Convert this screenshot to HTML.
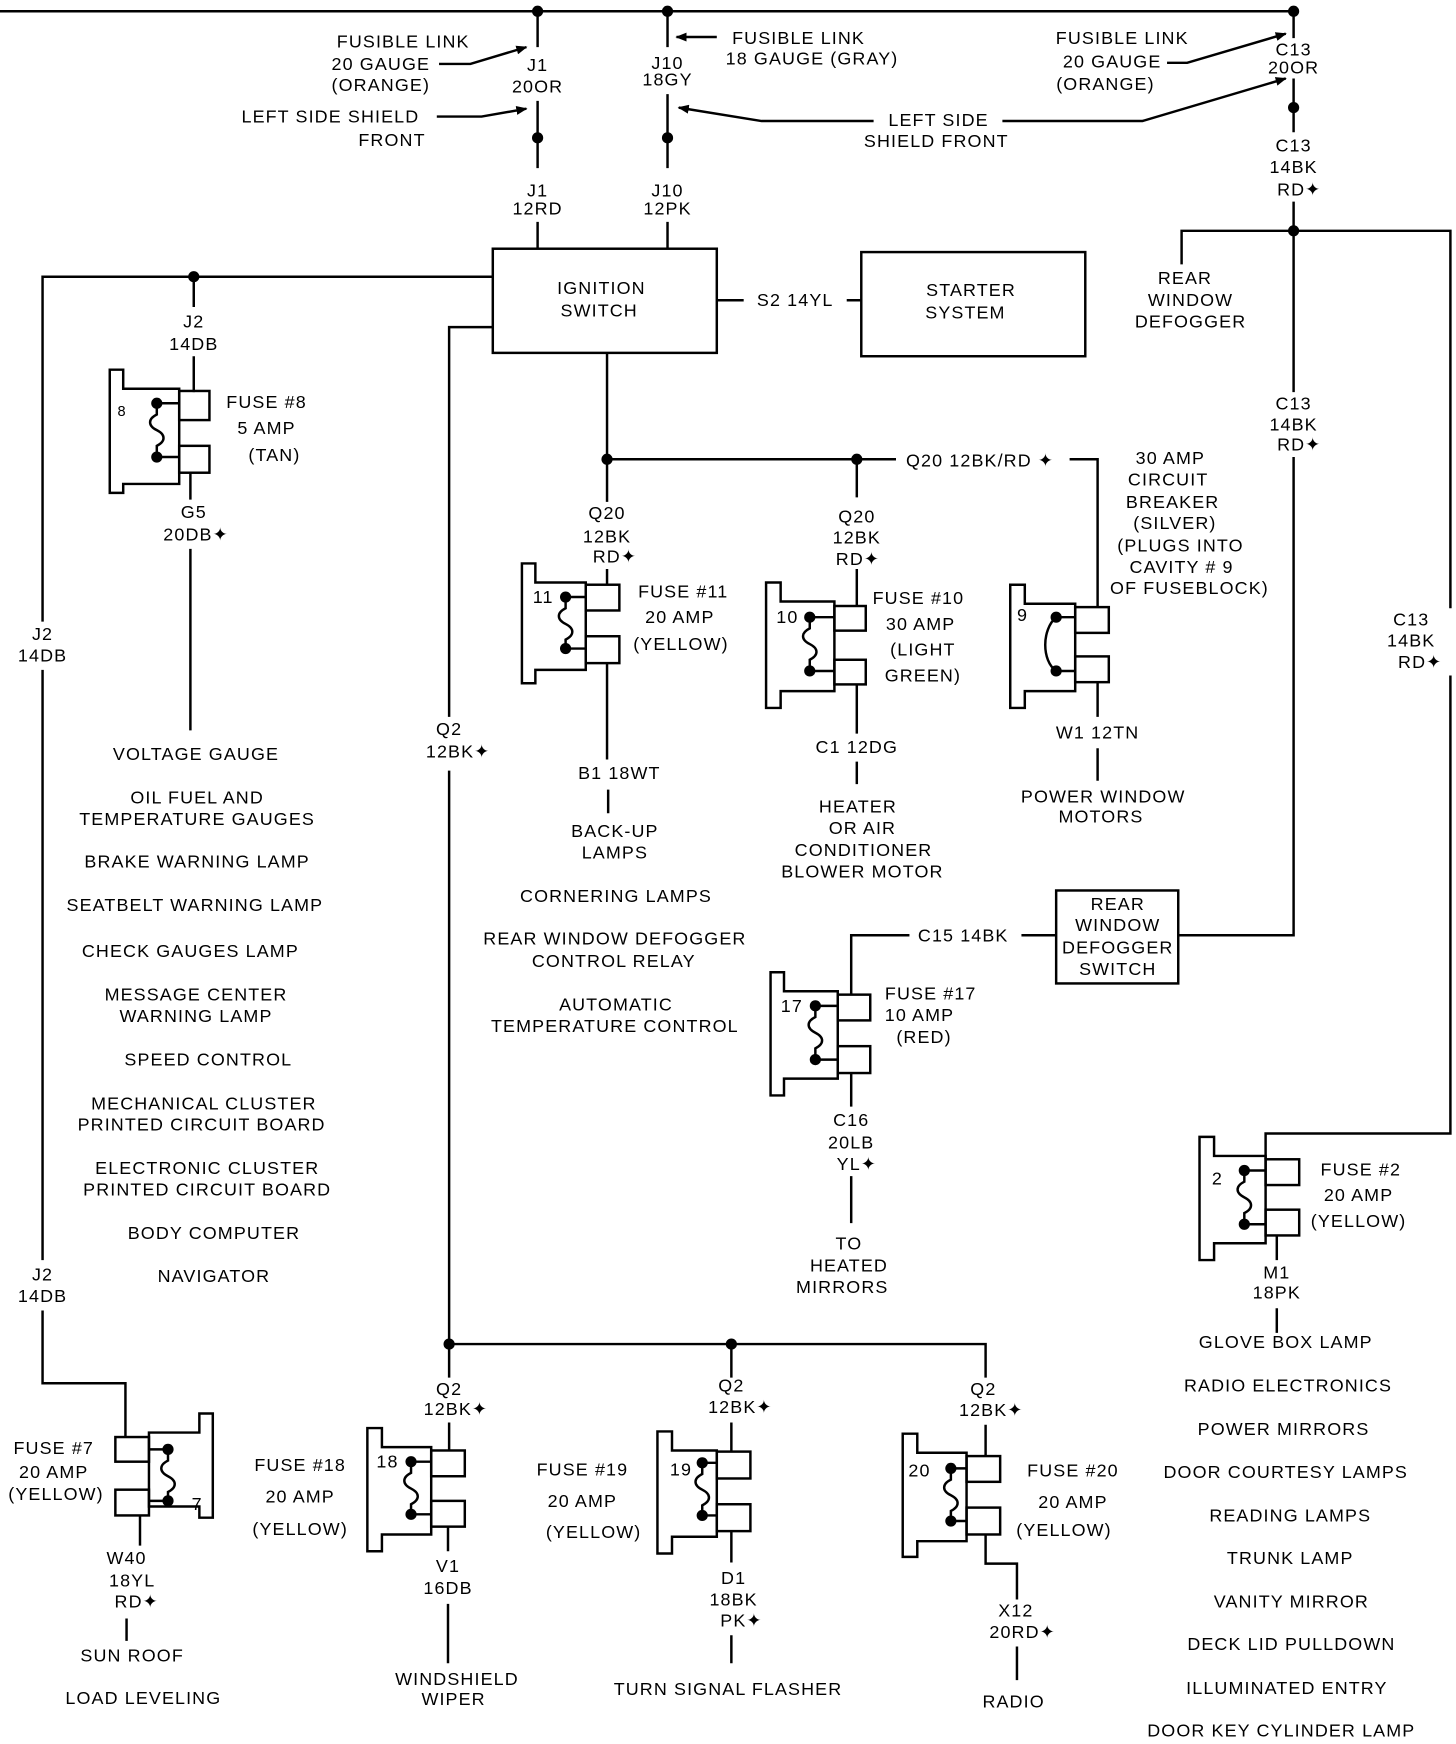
<!DOCTYPE html>
<html><head><meta charset="utf-8"><style>
html,body{margin:0;padding:0;background:#fff}
svg{display:block}
text{font-family:"Liberation Sans",sans-serif;font-size:16px;letter-spacing:1px;fill:#000;text-anchor:middle;dominant-baseline:central}
</style></head><body>
<svg width="1456" height="1744" viewBox="0 0 1300 1557" xmlns="http://www.w3.org/2000/svg">
<defs><marker id="a" markerWidth="10" markerHeight="8" refX="9" refY="4" orient="auto" markerUnits="userSpaceOnUse"><path d="M0,0 L10,4 L0,8 Z"/></marker></defs>
<g stroke="#000" stroke-width="2.2" fill="none">
<path d="M0,10 H1155"/>
<path d="M480,10 V42 M480,90 V150 M480,198 V222"/>
<path d="M596,10 V42 M596,84 V150 M596,198 V222"/>
<path d="M1155,10 V34 M1155,70 V118 M1155,180 V206"/>
<path d="M392,57 L420,57 L470,42" marker-end="url(#a)"/>
<path d="M390,104 L430,104 L470,97" marker-end="url(#a)"/>
<path d="M640,33 H604" marker-end="url(#a)"/>
<path d="M780,108 H680 L606,96" marker-end="url(#a)"/>
<path d="M1042,56 H1060 L1148,30" marker-end="url(#a)"/>
<path d="M895,108 H1020 L1148,70" marker-end="url(#a)"/>
<rect x="440" y="222" width="200" height="93"/>
<rect x="769" y="225" width="200" height="93"/>
<path d="M640,268 H664 M756,268 H769"/>
<path d="M440,247 H38 V555 M38,598 V1125 M38,1170 V1235 H112 V1283"/>
<path d="M173,247 V274 M173,318 V350"/>
<path d="M170,422 V446 M170,490 V652"/>
<path d="M440,292 H401 V640 M401,688 V1200 H880 V1230 M401,1200 V1230 M653,1200 V1230"/>
<path d="M401,1270 V1295 M653,1270 V1296 M880,1272 V1300"/>
<path d="M542,315 V410 H765 M765,410 H800 M955,410 H980 V542"/>
<path d="M542,410 V448 M542,508 V522 M765,410 V444 M765,508 V541"/>
<path d="M542,592 V678 M543,705 V726"/>
<path d="M765,611 V655 M765,680 V700"/>
<path d="M980,609 V640 M980,668 V697"/>
<path d="M1055,236 V206 H1295 V543 M1295,603 V1012 H1130 V1035"/>
<path d="M1155,206 V350 M1155,408 V835 H1052"/>
<path d="M943,835 H912 M812,835 H760 V888"/>
<rect x="943" y="795" width="109" height="83"/>
<path d="M760,958 V988 M760,1050 V1092"/>
<path d="M1140,1103 V1125 M1140,1168 V1190"/>
<path d="M125,1353 V1380 M113,1445 V1465"/>
<path d="M400,1363 V1385 M400,1432 V1485"/>
<path d="M653,1367 V1395 M653,1460 V1485"/>
<path d="M880,1370 V1396 H908 V1428 M908,1470 V1500"/>
<path d="M98,330 H110 V347 H160 V432 H110 V440 H98 Z"/>
<rect x="160" y="349" width="27" height="26"/><rect x="160" y="398" width="27" height="24"/>
<path d="M466,503 H478 V520 H523 V598 H478 V610 H466 Z"/>
<rect x="523" y="522" width="30" height="23"/><rect x="523" y="568" width="30" height="24"/>
<path d="M684,520 H697 V537 H745 V617 H697 V632 H684 Z"/>
<rect x="745" y="541" width="28" height="22"/><rect x="745" y="589" width="28" height="22"/>
<path d="M902,522 H915 V539 H960 V617 H915 V632 H902 Z"/>
<rect x="960" y="542" width="30" height="23"/><rect x="960" y="586" width="30" height="23"/>
<path d="M943,551 C930,562 930,590 943,599"/>
<path d="M688,868 H700 V885 H748 V963 H700 V978 H688 Z"/>
<rect x="748" y="888" width="29" height="23"/><rect x="748" y="934" width="29" height="24"/>
<path d="M1071,1015 H1084 V1032 H1130 V1110 H1084 V1125 H1071 Z"/>
<rect x="1130" y="1035" width="30" height="23"/><rect x="1130" y="1080" width="30" height="23"/>
<path d="M190,1262 H178 V1279 H133 V1345 H178 V1355 H190 Z"/>
<rect x="103" y="1283" width="30" height="22"/><rect x="103" y="1330" width="30" height="23"/>
<path d="M328,1275 H341 V1292 H385 V1370 H341 V1385 H328 Z"/>
<rect x="385" y="1295" width="30" height="23"/><rect x="385" y="1340" width="30" height="23"/>
<path d="M587,1278 H600 V1295 H640 V1372 H600 V1387 H587 Z"/>
<rect x="640" y="1296" width="30" height="24"/><rect x="640" y="1343" width="30" height="24"/>
<path d="M806,1280 H819 V1297 H863 V1376 H819 V1390 H806 Z"/>
<rect x="863" y="1300" width="30" height="23"/><rect x="863" y="1346" width="30" height="24"/>
<path d="M140,360 V370 c-8,4 -8,10 0,14 c8,4 8,10 0,14 V408 M140,360 H160 M140,408 H160"/>
<path d="M505,533 V543 c-8,4 -8,10 0,14 c8,4 8,10 0,14 V579 M505,533 H523 M505,579 H523"/>
<path d="M723,551 V561 c-8,4 -8,10 0,14 c8,4 8,10 0,14 V599 M723,551 H745 M723,599 H745"/>
<path d="M943,551 H960 M943,599 H960"/>
<path d="M728,898 V908 c-8,4 -8,10 0,14 c8,4 8,10 0,14 V946 M728,898 H748 M728,946 H748"/>
<path d="M1111,1045 V1055 c-8,4 -8,10 0,14 c8,4 8,10 0,14 V1093 M1111,1045 H1130 M1111,1093 H1130"/>
<path d="M150,1294 V1304 c-8,4 -8,10 0,14 c8,4 8,10 0,14 V1340 M150,1294 H133 M150,1340 H133"/>
<path d="M367,1305 V1315 c-8,4 -8,10 0,14 c8,4 8,10 0,14 V1352 M367,1305 H385 M367,1352 H385"/>
<path d="M627,1306 V1316 c-8,4 -8,10 0,14 c8,4 8,10 0,14 V1353 M627,1306 H640 M627,1353 H640"/>
<path d="M849,1311 V1321 c-8,4 -8,10 0,14 c8,4 8,10 0,14 V1358 M849,1311 H863 M849,1358 H863"/>
</g>
<g fill="#000">
<circle cx="480" cy="10" r="5"/><circle cx="596" cy="10" r="5"/><circle cx="1155" cy="10" r="5"/>
<circle cx="480" cy="123" r="5"/><circle cx="596" cy="123" r="5"/><circle cx="1155" cy="96" r="5"/>
<circle cx="1155" cy="206" r="5"/><circle cx="173" cy="247" r="5"/><circle cx="542" cy="410" r="5"/><circle cx="765" cy="410" r="5"/>
<circle cx="401" cy="1200" r="5"/><circle cx="653" cy="1200" r="5"/>
<circle cx="140" cy="360" r="5"/><circle cx="140" cy="408" r="5"/>
<circle cx="505" cy="533" r="5"/><circle cx="505" cy="579" r="5"/>
<circle cx="723" cy="551" r="5"/><circle cx="723" cy="599" r="5"/>
<circle cx="943" cy="551" r="5"/><circle cx="943" cy="599" r="5"/>
<circle cx="728" cy="898" r="5"/><circle cx="728" cy="946" r="5"/>
<circle cx="1111" cy="1045" r="5"/><circle cx="1111" cy="1093" r="5"/>
<circle cx="150" cy="1294" r="5"/><circle cx="150" cy="1340" r="5"/>
<circle cx="367" cy="1305" r="5"/><circle cx="367" cy="1352" r="5"/>
<circle cx="627" cy="1306" r="5"/><circle cx="627" cy="1353" r="5"/>
<circle cx="849" cy="1311" r="5"/><circle cx="849" cy="1358" r="5"/>
</g>
<g>
<text x="360" y="37">FUSIBLE LINK</text><text x="340" y="57">20 GAUGE</text><text x="340" y="76">(ORANGE)</text>
<text x="295" y="104">LEFT SIDE SHIELD</text><text x="350" y="125">FRONT</text>
<text x="480" y="58">J1</text><text x="480" y="77">20OR</text>
<text x="596" y="56">J10</text><text x="596" y="71">18GY</text>
<text x="713" y="34">FUSIBLE LINK</text><text x="725" y="52">18 GAUGE (GRAY)</text>
<text x="1002" y="34">FUSIBLE LINK</text><text x="993" y="55">20 GAUGE</text><text x="987" y="75">(ORANGE)</text>
<text x="838" y="107">LEFT SIDE</text><text x="836" y="126">SHIELD FRONT</text>
<text x="1155" y="44">C13</text><text x="1155" y="60">20OR</text>
<text x="1155" y="130">C13</text><text x="1155" y="149">14BK</text><text x="1160" y="169">RD✦</text>
<text x="480" y="170">J1</text><text x="480" y="186">12RD</text>
<text x="596" y="170">J10</text><text x="596" y="186">12PK</text>
<text x="537" y="257">IGNITION</text><text x="535" y="277">SWITCH</text>
<text x="710" y="268">S2 14YL</text>
<text x="867" y="259">STARTER</text><text x="862" y="279">SYSTEM</text>
<text x="1058" y="248">REAR</text><text x="1063" y="268">WINDOW</text><text x="1063" y="287">DEFOGGER</text>
<text x="173" y="287">J2</text><text x="173" y="307">14DB</text>
<text x="109" y="368" style="font-size:13px">8</text>
<text x="238" y="359">FUSE #8</text><text x="238" y="382">5 AMP</text><text x="245" y="406">(TAN)</text>
<text x="173" y="457">G5</text><text x="175" y="477">20DB✦</text>
<text x="1155" y="360">C13</text><text x="1155" y="379">14BK</text><text x="1160" y="397">RD✦</text>
<text x="875" y="411">Q20  12BK/RD ✦</text>
<text x="1045" y="409">30 AMP</text><text x="1043" y="428">CIRCUIT</text><text x="1047" y="448">BREAKER</text><text x="1049" y="467">(SILVER)</text><text x="1054" y="487">(PLUGS INTO</text><text x="1055" y="506">CAVITY # 9</text><text x="1062" y="525">OF FUSEBLOCK)</text>
<text x="542" y="458">Q20</text><text x="542" y="479">12BK</text><text x="549" y="497">RD✦</text>
<text x="765" y="461">Q20</text><text x="765" y="480">12BK</text><text x="766" y="499">RD✦</text>
<text x="485" y="533">11</text><text x="610" y="528">FUSE #11</text><text x="607" y="551">20 AMP</text><text x="608" y="575">(YELLOW)</text>
<text x="703" y="551">10</text><text x="820" y="534">FUSE #10</text><text x="822" y="557">30 AMP</text><text x="824" y="580">(LIGHT</text><text x="824" y="603">GREEN)</text>
<text x="913" y="549">9</text>
<text x="38" y="566">J2</text><text x="38" y="585">14DB</text>
<text x="1260" y="553">C13</text><text x="1260" y="572">14BK</text><text x="1268" y="591">RD✦</text>
<text x="401" y="651">Q2</text><text x="409" y="671">12BK✦</text>
<text x="765" y="667">C1  12DG</text><text x="980" y="654">W1  12TN</text>
<text x="553" y="690">B1  18WT</text>
<text x="175" y="673">VOLTAGE GAUGE</text>
<text x="176" y="712">OIL FUEL AND</text><text x="176" y="731">TEMPERATURE GAUGES</text>
<text x="176" y="769">BRAKE WARNING LAMP</text>
<text x="174" y="808">SEATBELT WARNING LAMP</text>
<text x="170" y="849">CHECK GAUGES LAMP</text>
<text x="175" y="888">MESSAGE CENTER</text><text x="175" y="907">WARNING LAMP</text>
<text x="186" y="946">SPEED CONTROL</text>
<text x="182" y="985">MECHANICAL CLUSTER</text><text x="180" y="1004">PRINTED CIRCUIT BOARD</text>
<text x="185" y="1043">ELECTRONIC CLUSTER</text><text x="185" y="1062">PRINTED CIRCUIT BOARD</text>
<text x="191" y="1101">BODY COMPUTER</text>
<text x="191" y="1139">NAVIGATOR</text>
<text x="985" y="711">POWER WINDOW</text><text x="983" y="729">MOTORS</text>
<text x="766" y="720">HEATER</text><text x="770" y="739">OR AIR</text><text x="771" y="759">CONDITIONER</text><text x="770" y="778">BLOWER MOTOR</text>
<text x="549" y="742">BACK-UP</text><text x="549" y="761">LAMPS</text>
<text x="550" y="800">CORNERING LAMPS</text>
<text x="549" y="838">REAR WINDOW DEFOGGER</text><text x="548" y="858">CONTROL RELAY</text>
<text x="550" y="897">AUTOMATIC</text><text x="549" y="916">TEMPERATURE CONTROL</text>
<text x="998" y="807">REAR</text><text x="998" y="826">WINDOW</text><text x="998" y="846">DEFOGGER</text><text x="998" y="865">SWITCH</text>
<text x="860" y="835">C15 14BK</text>
<text x="707" y="898">17</text><text x="831" y="887">FUSE #17</text><text x="821" y="906">10 AMP</text><text x="825" y="926">(RED)</text>
<text x="760" y="1000">C16</text><text x="760" y="1020">20LB</text><text x="765" y="1039">YL✦</text>
<text x="758" y="1110">TO</text><text x="758" y="1130">HEATED</text><text x="752" y="1149">MIRRORS</text>
<text x="1087" y="1052">2</text><text x="1215" y="1044">FUSE #2</text><text x="1213" y="1067">20 AMP</text><text x="1213" y="1090">(YELLOW)</text>
<text x="1140" y="1136">M1</text><text x="1140" y="1154">18PK</text>
<text x="1148" y="1198">GLOVE BOX LAMP</text>
<text x="1150" y="1237">RADIO ELECTRONICS</text>
<text x="1146" y="1276">POWER MIRRORS</text>
<text x="1148" y="1314">DOOR COURTESY LAMPS</text>
<text x="1152" y="1353">READING LAMPS</text>
<text x="1152" y="1391">TRUNK LAMP</text>
<text x="1153" y="1430">VANITY MIRROR</text>
<text x="1153" y="1468">DECK LID PULLDOWN</text>
<text x="1149" y="1507">ILLUMINATED ENTRY</text>
<text x="1144" y="1545">DOOR KEY CYLINDER LAMP</text>
<text x="38" y="1138">J2</text><text x="38" y="1157">14DB</text>
<text x="401" y="1240">Q2</text><text x="407" y="1258">12BK✦</text>
<text x="653" y="1237">Q2</text><text x="661" y="1256">12BK✦</text>
<text x="878" y="1240">Q2</text><text x="885" y="1259">12BK✦</text>
<text x="48" y="1293">FUSE #7</text><text x="48" y="1314">20 AMP</text><text x="50" y="1334">(YELLOW)</text>
<text x="176" y="1343">7</text>
<text x="346" y="1305">18</text><text x="268" y="1308">FUSE #18</text><text x="268" y="1336">20 AMP</text><text x="268" y="1365">(YELLOW)</text>
<text x="608" y="1312">19</text><text x="520" y="1312">FUSE #19</text><text x="520" y="1340">20 AMP</text><text x="530" y="1368">(YELLOW)</text>
<text x="821" y="1313">20</text><text x="958" y="1313">FUSE #20</text><text x="958" y="1341">20 AMP</text><text x="950" y="1366">(YELLOW)</text>
<text x="113" y="1391">W40</text><text x="118" y="1411">18YL</text><text x="122" y="1430">RD✦</text>
<text x="400" y="1398">V1</text><text x="400" y="1418">16DB</text>
<text x="655" y="1409">D1</text><text x="655" y="1428">18BK</text><text x="662" y="1447">PK✦</text>
<text x="907" y="1438">X12</text><text x="913" y="1457">20RD✦</text>
<text x="118" y="1478">SUN ROOF</text><text x="128" y="1516">LOAD LEVELING</text>
<text x="408" y="1499">WINDSHIELD</text><text x="405" y="1517">WIPER</text>
<text x="650" y="1508">TURN SIGNAL FLASHER</text>
<text x="905" y="1519">RADIO</text>
</g>
</svg>
</body></html>
